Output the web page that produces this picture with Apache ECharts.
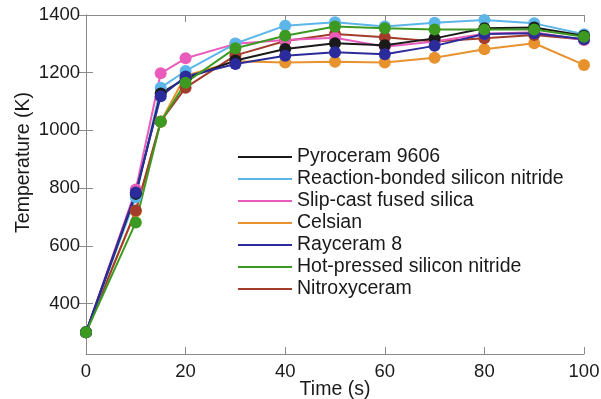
<!DOCTYPE html>
<html><head><meta charset="utf-8">
<script src="https://cdn.jsdelivr.net/npm/echarts@6/dist/echarts.min.js"></script>
<style>html,body{margin:0;padding:0;background:#fff}#c{width:601px;height:399px}</style>
</head><body><div id="c"></div>
<script>
const times = [0, 10, 15, 20, 30, 40, 50, 60, 70, 80, 90, 100];
const names = ["Pyroceram 9606", "Reaction-bonded silicon nitride", "Slip-cast fused silica", "Celsian", "Rayceram 8", "Hot-pressed silicon nitride", "Nitroxyceram"];
const pyroceram = [300, 780, 1128, 1180, 1242, 1282, 1302, 1295, 1319, 1354, 1357, 1328];
const rbsn = [300, 768, 1148, 1206, 1301, 1363, 1375, 1360, 1373, 1383, 1371, 1333];
const slipcast = [300, 795, 1198, 1250, 1300, 1313, 1321, 1290, 1308, 1335, 1340, 1313];
const celsian = [300, 720, 1030, 1190, 1240, 1235, 1238, 1235, 1252, 1281, 1302, 1227];
const rayceram = [300, 785, 1118, 1187, 1230, 1259, 1271, 1264, 1293, 1334, 1337, 1316];
const hpsn = [300, 681, 1030, 1165, 1285, 1328, 1360, 1354, 1350, 1350, 1350, 1325];
const nitroxy = [300, 722, 1031, 1148, 1260, 1310, 1334, 1323, 1308, 1319, 1331, 1315];
const xTicks = [0, 20, 40, 60, 80, 100];
const yTicks = [400, 600, 800, 1000, 1200, 1400];

const values = [pyroceram, rbsn, slipcast, celsian, rayceram, hpsn, nitroxy];
const colors = ["#1a1a1a", "#5cb6ea", "#ea5cbc", "#e8922e", "#2b2b9c", "#3c9a22", "#a43c2c"];
const order = [3, 6, 2, 1, 0, 4, 5];

const font = "'Liberation Sans', Arial, Helvetica, sans-serif";
const axisColor = "#8a8a8a";

const series = order.map(i => ({
  name: names[i], type: 'line',
  data: times.map((t, k) => [t, values[i][k]]),
  symbol: 'circle', symbolSize: 12,
  lineStyle: { color: colors[i], width: 2 },
  itemStyle: { color: colors[i] },
  emphasis: { disabled: true },
  animation: false
}));

const tickStyle = { show: true, inside: true, length: 7, lineStyle: { color: axisColor } };
const lineStyle = { show: true, lineStyle: { color: axisColor, width: 1 } };

const chart = echarts.init(document.getElementById('c'), null, { renderer: 'canvas' });
chart.setOption({
  backgroundColor: '#fff',
  animation: false,
  grid: { left: 86, right: 17, top: 15, bottom: 45, outerBoundsMode: 'none', containLabel: false },
  legend: {
    data: names,
    orient: 'vertical', left: 238, top: 147, padding: 0,
    icon: 'rect', itemWidth: 54, itemHeight: 2, itemGap: 2,
    textStyle: { fontFamily: font, fontSize: 19.5, color: '#1a1a1a', lineHeight: 20 },
    selectedMode: false
  },
  xAxis: [{
    type: 'value', min: 0, max: 100, interval: 20,
    name: 'Time (s)', nameLocation: 'middle', nameGap: 26, nameMoveOverlap: false,
    nameTextStyle: { fontFamily: font, fontSize: 19.5, color: '#1a1a1a' },
    axisLine: lineStyle,
    axisTick: tickStyle,
    axisLabel: { fontFamily: font, fontSize: 18.5, color: '#1a1a1a', margin: 8, customValues: xTicks },
    splitLine: { show: false }
  }, {
    type: 'value', position: 'top', min: 0, max: 100, interval: 20,
    axisLine: lineStyle, axisTick: tickStyle,
    axisLabel: { show: false }, splitLine: { show: false }
  }],
  yAxis: [{
    type: 'value', min: 225, max: 1400,
    name: 'Temperature (K)', nameLocation: 'middle', nameGap: 52, nameRotate: 90, nameMoveOverlap: false,
    nameTextStyle: { fontFamily: font, fontSize: 19.5, color: '#1a1a1a', padding: [0, 0, 0, 44] },
    axisLine: lineStyle,
    axisTick: Object.assign({}, tickStyle, { customValues: yTicks }),
    axisLabel: { fontFamily: font, fontSize: 18.5, color: '#1a1a1a', margin: 6, customValues: yTicks, formatter: v => String(v) },
    splitLine: { show: false }
  }, {
    type: 'value', position: 'right', min: 225, max: 1400,
    axisLine: lineStyle,
    axisTick: Object.assign({}, tickStyle, { customValues: yTicks }),
    axisLabel: { show: false }, splitLine: { show: false }
  }],
  series: series
});
</script>
</body></html>
